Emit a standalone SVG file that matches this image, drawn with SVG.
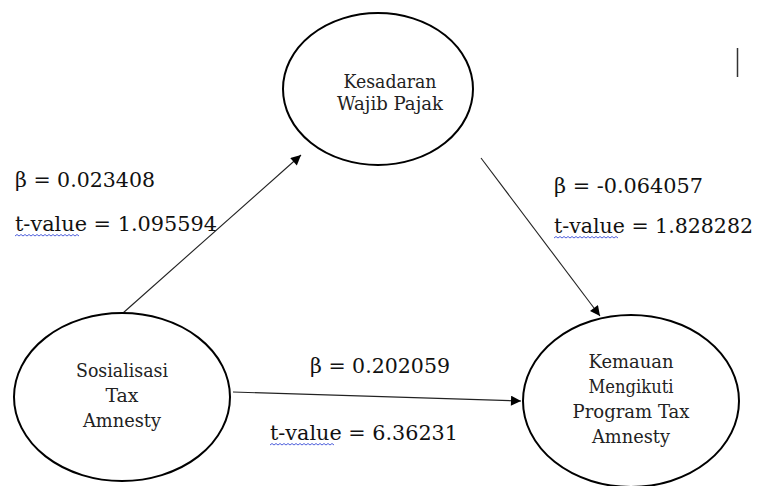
<svg xmlns="http://www.w3.org/2000/svg" width="760" height="486" viewBox="0 0 760 486">
  <style>
    .node { fill: #ffffff; stroke: #000000; stroke-width: 2; }
    .ntext { font-family: "DejaVu Serif", serif; font-size: 18.5px; fill: #222222; text-anchor: middle; }
    .label { font-family: "DejaVu Serif", serif; font-size: 20.5px; fill: #111111; }
    .edge { stroke: #222222; stroke-width: 1.1; fill: none; marker-end: url(#arrow); }
    .squiggle { stroke: #3b4fd8; stroke-width: 0.9; fill: none; }
  </style>
  <defs>
    <marker id="arrow" viewBox="0 0 10 10" refX="10" refY="5" markerWidth="12" markerHeight="10" markerUnits="userSpaceOnUse" orient="auto">
      <path d="M0,0 L10,5 L0,10 z" fill="#000000"/>
    </marker>
  </defs>
  <rect width="760" height="486" fill="#ffffff"/>

  <g id="connectors">
    <line class="edge" x1="123" y1="313" x2="301" y2="155"/>
    <line class="edge" x1="481" y1="158" x2="600" y2="316"/>
    <line class="edge" x1="233" y1="392" x2="521" y2="401"/>
  </g>

  <g id="kesadaran">
    <ellipse class="node" cx="378" cy="89" rx="95" ry="76"/>
    <text class="ntext" x="390" y="88" textLength="93" lengthAdjust="spacingAndGlyphs">Kesadaran</text>
    <text class="ntext" x="390" y="110" textLength="106" lengthAdjust="spacingAndGlyphs">Wajib Pajak</text>
  </g>

  <g id="sosialisasi">
    <ellipse class="node" cx="122" cy="397" rx="108" ry="84"/>
    <text class="ntext" x="122" y="377" textLength="92" lengthAdjust="spacingAndGlyphs">Sosialisasi</text>
    <text class="ntext" x="122" y="402" textLength="33" lengthAdjust="spacingAndGlyphs">Tax</text>
    <text class="ntext" x="122" y="427" textLength="78" lengthAdjust="spacingAndGlyphs">Amnesty</text>
  </g>

  <g id="kemauan">
    <ellipse class="node" cx="631" cy="401" rx="108" ry="86"/>
    <text class="ntext" x="631" y="368" textLength="85" lengthAdjust="spacingAndGlyphs">Kemauan</text>
    <text class="ntext" x="631" y="393" textLength="85" lengthAdjust="spacingAndGlyphs">Mengikuti</text>
    <text class="ntext" x="631" y="418" textLength="117" lengthAdjust="spacingAndGlyphs">Program Tax</text>
    <text class="ntext" x="631" y="443" textLength="78" lengthAdjust="spacingAndGlyphs">Amnesty</text>
  </g>

  <g id="labels">
    <text class="label" x="15" y="187" textLength="140" lengthAdjust="spacingAndGlyphs">β = 0.023408</text>
    <text class="label" x="15" y="231" textLength="202" lengthAdjust="spacingAndGlyphs">t-value = 1.095594</text>
    <text class="label" x="554" y="193" textLength="149" lengthAdjust="spacingAndGlyphs">β = -0.064057</text>
    <text class="label" x="554" y="233" textLength="199" lengthAdjust="spacingAndGlyphs">t-value = 1.828282</text>
    <text class="label" x="310" y="373" textLength="140" lengthAdjust="spacingAndGlyphs">β = 0.202059</text>
    <text class="label" x="270" y="440" textLength="188" lengthAdjust="spacingAndGlyphs">t-value = 6.36231</text>
    <!-- spell-check underlines beneath "t-value" -->
    <path class="squiggle" d="M15,236 l2,-1.5 l2,1.5 l2,-1.5 l2,1.5 l2,-1.5 l2,1.5 l2,-1.5 l2,1.5 l2,-1.5 l2,1.5 l2,-1.5 l2,1.5 l2,-1.5 l2,1.5 l2,-1.5 l2,1.5 l2,-1.5 l2,1.5 l2,-1.5 l2,1.5 l2,-1.5 l2,1.5 l2,-1.5 l2,1.5 l2,-1.5 l2,1.5 l2,-1.5 l2,1.5 l2,-1.5 l2,1.5 l2,-1.5 l2,1.5"/>
    <path class="squiggle" d="M554,238 l2,-1.5 l2,1.5 l2,-1.5 l2,1.5 l2,-1.5 l2,1.5 l2,-1.5 l2,1.5 l2,-1.5 l2,1.5 l2,-1.5 l2,1.5 l2,-1.5 l2,1.5 l2,-1.5 l2,1.5 l2,-1.5 l2,1.5 l2,-1.5 l2,1.5 l2,-1.5 l2,1.5 l2,-1.5 l2,1.5 l2,-1.5 l2,1.5 l2,-1.5 l2,1.5 l2,-1.5 l2,1.5 l2,-1.5 l2,1.5"/>
    <path class="squiggle" d="M270,445 l2,-1.5 l2,1.5 l2,-1.5 l2,1.5 l2,-1.5 l2,1.5 l2,-1.5 l2,1.5 l2,-1.5 l2,1.5 l2,-1.5 l2,1.5 l2,-1.5 l2,1.5 l2,-1.5 l2,1.5 l2,-1.5 l2,1.5 l2,-1.5 l2,1.5 l2,-1.5 l2,1.5 l2,-1.5 l2,1.5 l2,-1.5 l2,1.5 l2,-1.5 l2,1.5 l2,-1.5 l2,1.5 l2,-1.5 l2,1.5"/>
  </g>

  <!-- text cursor mark, top right -->
  <line x1="737.5" y1="48" x2="737.5" y2="77" stroke="#333333" stroke-width="1.5"/>
</svg>
